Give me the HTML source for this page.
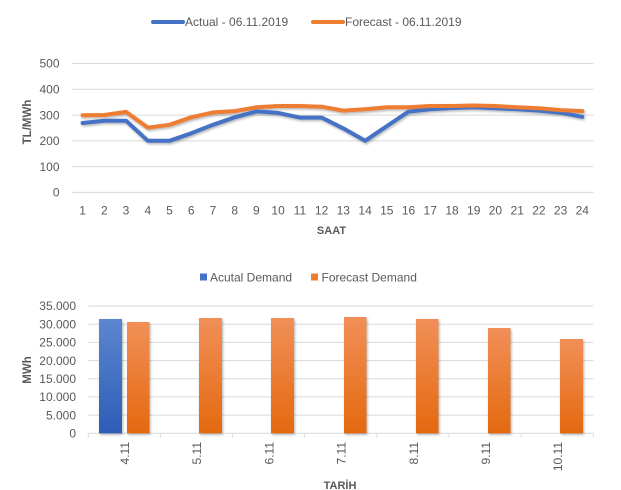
<!DOCTYPE html>
<html><head><meta charset="utf-8"><style>
html,body{margin:0;padding:0;background:#fff;}
svg{display:block;font-family:"Liberation Sans",Arial,sans-serif;}
</style></head><body>
<svg width="621" height="490" viewBox="0 0 621 490" xmlns="http://www.w3.org/2000/svg">
<defs>
<linearGradient id="gb" x1="0" y1="0" x2="0" y2="1"><stop offset="0" stop-color="#5C86CF"/><stop offset="1" stop-color="#2D5DB6"/></linearGradient>
<linearGradient id="go" x1="0" y1="0" x2="0" y2="1"><stop offset="0" stop-color="#F18F58"/><stop offset="1" stop-color="#E4690F"/></linearGradient>
<filter id="sh" x="-10%" y="-20%" width="120%" height="150%"><feGaussianBlur in="SourceAlpha" stdDeviation="1.2"/><feOffset dx="1" dy="1.5"/><feComponentTransfer><feFuncA type="linear" slope="0.3"/></feComponentTransfer><feMerge><feMergeNode/><feMergeNode in="SourceGraphic"/></feMerge></filter>
</defs>
<rect width="621" height="490" fill="#fff"/>

<!-- TOP CHART -->
<line x1="153" y1="22" x2="183" y2="22" stroke="#4472C4" stroke-width="4" stroke-linecap="round"/>
<text x="185" y="26" font-size="12" fill="#595959">Actual - 06.11.2019</text>
<line x1="313" y1="22" x2="343" y2="22" stroke="#ED7D31" stroke-width="4" stroke-linecap="round"/>
<text x="345" y="26" font-size="12" fill="#595959">Forecast - 06.11.2019</text>

<g stroke="#D9D9D9" stroke-width="1">
<line x1="71.7" y1="63.5" x2="593.3" y2="63.5"/>
<line x1="71.7" y1="89.3" x2="593.3" y2="89.3"/>
<line x1="71.7" y1="115.1" x2="593.3" y2="115.1"/>
<line x1="71.7" y1="140.9" x2="593.3" y2="140.9"/>
<line x1="71.7" y1="166.6" x2="593.3" y2="166.6"/>
<line x1="71.7" y1="192.4" x2="593.3" y2="192.4"/>
</g>
<g font-size="12" fill="#595959" text-anchor="end">
<text x="59.5" y="67.7">500</text>
<text x="59.5" y="93.5">400</text>
<text x="59.5" y="119.3">300</text>
<text x="59.5" y="145.1">200</text>
<text x="59.5" y="170.8">100</text>
<text x="59.5" y="196.6">0</text>
</g>
<g font-size="12" fill="#595959" text-anchor="middle">
<text x="82.6" y="214.5">1</text><text x="104.3" y="214.5">2</text><text x="126.0" y="214.5">3</text><text x="147.8" y="214.5">4</text><text x="169.5" y="214.5">5</text><text x="191.2" y="214.5">6</text><text x="213.0" y="214.5">7</text><text x="234.7" y="214.5">8</text><text x="256.4" y="214.5">9</text><text x="278.1" y="214.5">10</text><text x="299.9" y="214.5">11</text><text x="321.6" y="214.5">12</text><text x="343.3" y="214.5">13</text><text x="365.1" y="214.5">14</text><text x="386.8" y="214.5">15</text><text x="408.5" y="214.5">16</text><text x="430.2" y="214.5">17</text><text x="452.0" y="214.5">18</text><text x="473.7" y="214.5">19</text><text x="495.4" y="214.5">20</text><text x="517.2" y="214.5">21</text><text x="538.9" y="214.5">22</text><text x="560.6" y="214.5">23</text><text x="582.3" y="214.5">24</text>
</g>
<text x="331.5" y="234" font-size="11" font-weight="bold" fill="#595959" text-anchor="middle">SAAT</text>
<text transform="translate(31,122) rotate(-90)" font-size="11.5" font-weight="bold" fill="#595959" text-anchor="middle">TL/MWh</text>

<g filter="url(#sh)" fill="none" stroke-width="4" stroke-linejoin="round" stroke-linecap="round">
<polyline stroke="#4472C4" points="82.6,123.0 104.3,120.7 126.0,120.7 147.8,140.8 169.5,140.8 191.2,133.3 213.0,124.8 234.7,117.3 256.4,111.4 278.1,112.9 299.9,117.6 321.6,117.6 343.3,128.4 365.1,140.8 386.8,126.1 408.5,111.6 430.2,109.3 452.0,108.0 473.7,107.3 495.4,108.3 517.2,109.3 538.9,110.6 560.6,112.7 582.3,116.8"/>
<polyline stroke="#ED7D31" points="82.6,115.3 104.3,115.0 126.0,111.9 147.8,127.6 169.5,124.8 191.2,117.3 213.0,112.4 234.7,111.1 256.4,107.3 278.1,106.0 299.9,106.0 321.6,106.7 343.3,110.6 365.1,109.3 386.8,107.3 408.5,107.3 430.2,106.0 452.0,106.0 473.7,105.5 495.4,106.0 517.2,107.3 538.9,108.3 560.6,110.1 582.3,111.1"/>
</g>

<!-- BOTTOM CHART -->
<rect x="200" y="273.5" width="7" height="7" fill="#4472C4"/>
<text x="210" y="281.5" font-size="12" fill="#595959">Acutal Demand</text>
<rect x="311" y="273.5" width="7" height="7" fill="#ED7D31"/>
<text x="321.5" y="281.5" font-size="12" fill="#595959">Forecast Demand</text>

<g stroke="#D9D9D9" stroke-width="1">
<line x1="88.3" y1="306" x2="593.3" y2="306"/>
<line x1="88.3" y1="324.2" x2="593.3" y2="324.2"/>
<line x1="88.3" y1="342.4" x2="593.3" y2="342.4"/>
<line x1="88.3" y1="360.6" x2="593.3" y2="360.6"/>
<line x1="88.3" y1="378.8" x2="593.3" y2="378.8"/>
<line x1="88.3" y1="396.9" x2="593.3" y2="396.9"/>
<line x1="88.3" y1="415.1" x2="593.3" y2="415.1"/>
<line x1="88.3" y1="433.3" x2="593.3" y2="433.3"/>
<line x1="88.3" y1="433.3" x2="88.3" y2="437.5"/>
<line x1="160.4" y1="433.3" x2="160.4" y2="437.5"/>
<line x1="232.6" y1="433.3" x2="232.6" y2="437.5"/>
<line x1="304.7" y1="433.3" x2="304.7" y2="437.5"/>
<line x1="376.9" y1="433.3" x2="376.9" y2="437.5"/>
<line x1="449.0" y1="433.3" x2="449.0" y2="437.5"/>
<line x1="521.2" y1="433.3" x2="521.2" y2="437.5"/>
<line x1="593.3" y1="433.3" x2="593.3" y2="437.5"/>
</g>
<g font-size="12" fill="#595959" text-anchor="end">
<text x="76" y="310.2">35.000</text>
<text x="76" y="328.4">30.000</text>
<text x="76" y="346.6">25.000</text>
<text x="76" y="364.8">20.000</text>
<text x="76" y="383.0">15.000</text>
<text x="76" y="401.1">10.000</text>
<text x="76" y="419.3">5.000</text>
<text x="76" y="437.5">0</text>
</g>

<g filter="url(#sh)">
<rect x="99" y="319" width="23" height="114.3" fill="url(#gb)"/>
<rect x="127" y="322" width="22.5" height="111.3" fill="url(#go)"/>
<rect x="199" y="318" width="23" height="115.3" fill="url(#go)"/>
<rect x="271" y="318" width="23" height="115.3" fill="url(#go)"/>
<rect x="344" y="317" width="22.5" height="116.3" fill="url(#go)"/>
<rect x="416" y="319" width="22.5" height="114.3" fill="url(#go)"/>
<rect x="488" y="328" width="22.5" height="105.3" fill="url(#go)"/>
<rect x="560" y="339" width="23" height="94.3" fill="url(#go)"/>
</g>

<g font-size="12" fill="#595959" text-anchor="end">
<text transform="translate(129,442) rotate(-90)">4.11</text>
<text transform="translate(201.2,442) rotate(-90)">5.11</text>
<text transform="translate(273.4,442) rotate(-90)">6.11</text>
<text transform="translate(345.6,442) rotate(-90)">7.11</text>
<text transform="translate(417.8,442) rotate(-90)">8.11</text>
<text transform="translate(490,442) rotate(-90)">9.11</text>
<text transform="translate(562.2,442) rotate(-90)">10.11</text>
</g>
<text x="340" y="489" font-size="11" font-weight="bold" fill="#595959" text-anchor="middle">TARİH</text>
<text transform="translate(31,370) rotate(-90)" font-size="11.5" font-weight="bold" fill="#595959" text-anchor="middle">MWh</text>
</svg>
</body></html>
